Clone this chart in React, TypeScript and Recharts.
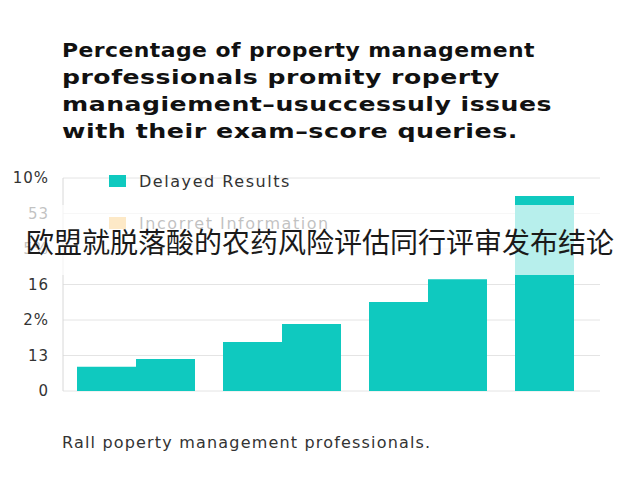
import React from 'react';
import { BarChart, Bar, XAxis, YAxis, CartesianGrid } from 'recharts';

const categories = ['Group 1', 'Group 2', 'Group 3', 'Group 4'];
const delayedFirst = [0.68, 1.38, 2.51, 5.49];
const delayedSecond: (number | null)[] = [0.9, 1.89, 3.15, null];
const yTickValues = [0, 1, 2, 3, 4, 5, 6];
const yTickLabels = ['0', '13', '2%', '16', '5%', '53', '10%'];
const titleLines = [
  'Percentage of property management',
  'professionals promity roperty',
  'managiement\u2013usuccessuly issues',
  'with their exam\u2013score queries.',
];
const legendLabels = ['Delayed Results', 'Incorret Information'];
const legendColors = ['#0fc9bf', '#f7b545'];
const caption = 'Rall poperty management professionals.';
const overlayText = '欧盟就脱落酸的农药风险评估同行评审发布结论';

const TEAL = '#0fc9bf';
const FONT = '"DejaVu Sans", "Open Sans", sans-serif';
// rendered widths of the title lines, in pixels (layout only)
const TITLE_WIDTHS = [473, 438, 490, 456];

const data = categories.map((name, i) => ({
  name,
  first: delayedFirst[i],
  second: delayedSecond[i],
}));

export default function App() {
  return (
    <div
      style={{
        position: 'fixed',
        left: 0,
        top: 0,
        width: 640,
        height: 480,
        overflow: 'hidden',
        background: '#ffffff',
        fontFamily: FONT,
      }}
    >
      <div style={{ position: 'absolute', left: 0, top: 0 }}>
        <BarChart
          width={650}
          height={480}
          data={data}
          margin={{ top: 178, right: 3, bottom: 89, left: 0 }}
          barCategoryGap={14}
          barGap={0}
        >
          <CartesianGrid vertical={false} stroke="#e4e4e4" x={63} width={537} />
          <XAxis dataKey="name" hide />
          <YAxis
            width={63}
            domain={[0, 6]}
            ticks={yTickValues}
            interval={0}
            tickFormatter={(v: number) => yTickLabels[v]}
            axisLine={{ stroke: '#d8d8d8' }}
            tickLine={false}
            tickMargin={8}
            tick={{
              fill: '#333333',
              fontSize: 15,
              fontFamily: FONT,
              letterSpacing: 1,
              style: { letterSpacing: 1 },
            }}
          />
          <Bar dataKey="first" fill={TEAL} isAnimationActive={false} />
          <Bar dataKey="second" fill={TEAL} isAnimationActive={false} />
        </BarChart>
      </div>
      <svg
        width={640}
        height={480}
        style={{ position: 'absolute', left: 0, top: 0, pointerEvents: 'none' }}
      >
        {titleLines.map((line, i) => (
          <text
            key={i}
            x={62}
            y={56.5 + i * 27}
            fontFamily={FONT}
            fontWeight={700}
            fontSize={20}
            fill="#111111"
            style={{ letterSpacing: 0.4 }}
            textLength={TITLE_WIDTHS[i]}
            lengthAdjust="spacingAndGlyphs"
          >
            {line}
          </text>
        ))}
        {legendLabels.map((label, i) => (
          <g key={label}>
            <rect x={109} y={175 + i * 42} width={17} height={12} fill={legendColors[i]} />
            <text
              x={139}
              y={187 + i * 42}
              fontFamily={FONT}
              fontSize={16}
              fill="#333333"
              style={{ letterSpacing: 1.55 }}
            >
              {label}
            </text>
          </g>
        ))}
        <rect x={0} y={205} width={640} height={70} fill="#ffffff" fillOpacity={0.7} />
        <text
          x={320}
          y={253}
          textAnchor="middle"
          fontFamily='"Noto Sans CJK SC", sans-serif'
          fontSize={28}
          fill="#1a1a1a"
        >
          {overlayText}
        </text>
        <text
          x={62}
          y={448}
          fontFamily={FONT}
          fontSize={16}
          fill="#333333"
          style={{ letterSpacing: 1.18 }}
        >
          {caption}
        </text>
      </svg>
    </div>
  );
}
